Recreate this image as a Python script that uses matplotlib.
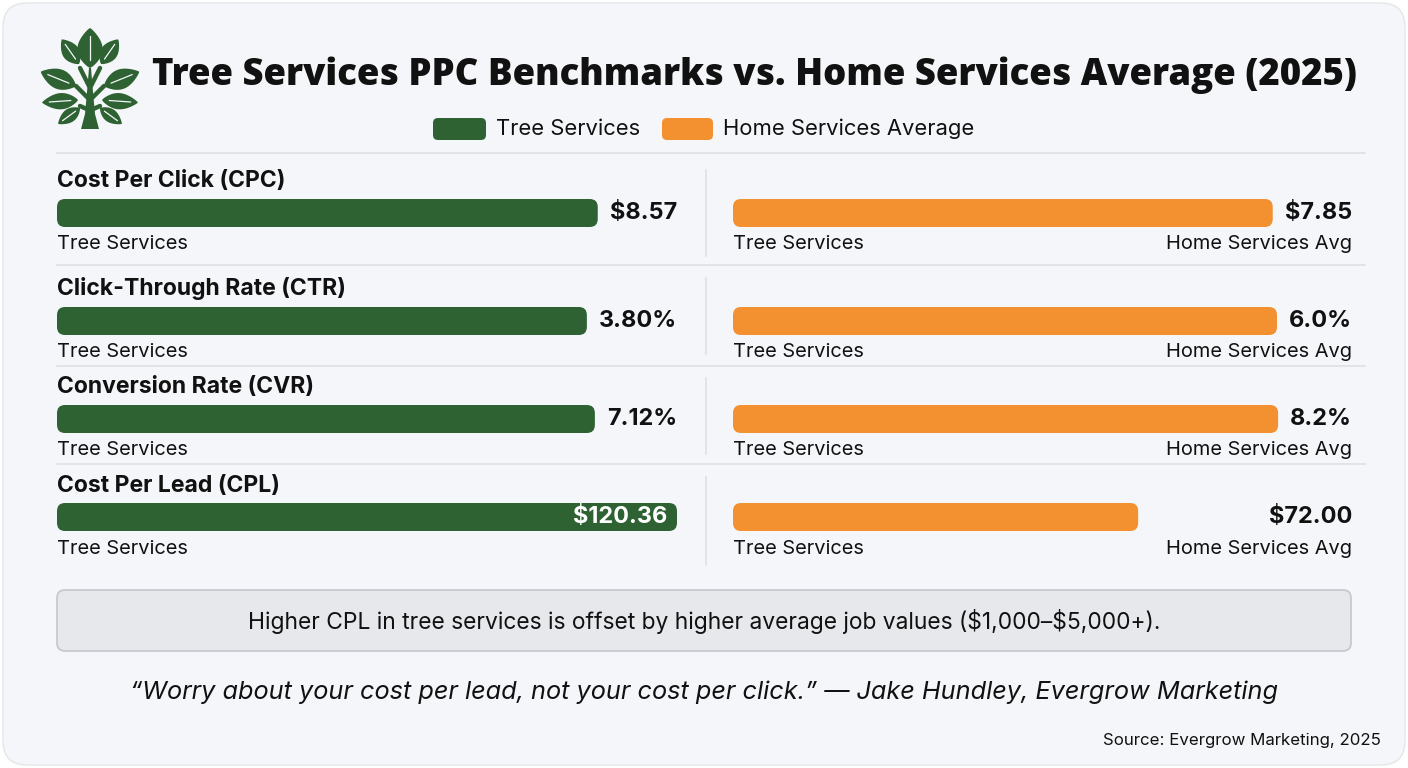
import numpy as np
import matplotlib.pyplot as plt
from matplotlib.patches import FancyBboxPatch, Polygon

# ---- data ----
metrics = ['Cost Per Click (CPC)', 'Click-Through Rate (CTR)',
           'Conversion Rate (CVR)', 'Cost Per Lead (CPL)']
tree_vals = [8.57, 3.80, 7.12, 120.36]
home_vals = [7.85, 6.0, 8.2, 72.00]
tree_labels = ['\\$8.57', '3.80%', '7.12%', '\\$120.36']
home_labels = ['\\$7.85', '6.0%', '8.2%', '\\$72.00']
series_names = ['Tree Services', 'Home Services Average']
note = 'Higher CPL in tree services is offset by higher average job values (\\$1,000–\\$5,000+).'
quote = '“Worry about your cost per lead, not your cost per click.” — Jake Hundley, Evergrow Marketing'
source = 'Source: Evergrow Marketing, 2025'

GREEN = '#2f6233'
ORANGE = '#f39130'
INK = '#111111'
BODY = ['Inter', 'DejaVu Sans']
HEAD = ['Open Sans', 'DejaVu Sans']

W, H = 1408, 768
fig = plt.figure(figsize=(W / 100, H / 100), dpi=100, facecolor='white')
bg = fig.add_axes([0, 0, 1, 1])
bg.set_xlim(0, W)
bg.set_ylim(H, 0)
bg.axis('off')
fig.canvas.draw()
r = fig.canvas.get_renderer()


def fit_size(s, target, **kw):
    # font size that makes s about target pixels wide
    t = bg.text(0, 0, s, fontsize=20, **kw)
    wd = t.get_window_extent(r).width
    t.remove()
    return 20 * target / wd


def text_width(s, **kw):
    t = bg.text(0, 0, s, **kw)
    wd = t.get_window_extent(r).width
    t.remove()
    return wd


# card
bg.add_patch(FancyBboxPatch((3, 3), W - 6, H - 6, boxstyle='round,pad=0,rounding_size=24',
                            fc='#f4f6f9', ec='#e3e6ea', lw=1))


# ---- tree icon ----
def leaf(bx, by, ang, L, Wd):
    t = np.linspace(0, 1, 40)
    x = t * L
    y = Wd / 2 * np.sin(np.pi * t) ** 0.8 * (1 - 0.2 * t)
    xs = np.concatenate([x, x[::-1]])
    ys = np.concatenate([y, -y[::-1]])
    a = np.deg2rad(ang)
    X = bx + xs * np.cos(a) - ys * np.sin(a)
    Y = by - (xs * np.sin(a) + ys * np.cos(a))
    bg.add_patch(Polygon(np.column_stack([X, Y]), closed=True, fc=GREEN, ec='none'))
    bg.plot([bx + 0.2 * L * np.cos(a), bx + 0.8 * L * np.cos(a)],
            [by - 0.2 * L * np.sin(a), by - 0.8 * L * np.sin(a)],
            color='#f4f6f9', lw=0.9, solid_capstyle='round')


cx = 90
trunk = [(81, 129), (99, 129), (95, 114), (93, 92), (91, 68), (89, 68), (87, 92), (85, 114)]
bg.add_patch(Polygon(trunk, closed=True, fc=GREEN, ec='none'))
for (x0, y0, x1, y1) in [(90, 100, 76, 86), (90, 100, 104, 86), (89, 86, 80, 68), (91, 86, 100, 68),
                         (89, 110, 80, 106), (91, 110, 100, 106)]:
    bg.plot([x0, x1], [y0, y1], color=GREEN, lw=3.2, solid_capstyle='round')
leaf(cx, 68, 90, 40, 28)
for s in (-1, 1):
    def mir(a):
        return a if s == 1 else 180 - a
    leaf(cx + s * 11, 64, mir(55), 30, 19)
    leaf(cx + s * 14, 86, mir(22), 38, 22)
    leaf(cx + s * 12, 100, mir(-4), 36, 18)
    leaf(cx + s * 10, 108, mir(-36), 27, 15)

# ---- title ----
title_s = 'Tree Services PPC Benchmarks vs. Home Services Average (2025)'
tkw = dict(fontweight=800, family=HEAD)
bg.text(152, 75, title_s, ha='left', va='center', color=INK,
        fontsize=fit_size(title_s, 1205, **tkw), **tkw)

# ---- legend ----
leg_fs = fit_size(series_names[0], 144, family=BODY)
for (x0, x1, col, name) in [(433, 486, GREEN, series_names[0]), (662, 713, ORANGE, series_names[1])]:
    bg.add_patch(FancyBboxPatch((x0, 118), x1 - x0, 22, boxstyle='round,pad=0,rounding_size=5',
                                fc=col, ec='none'))
    bg.text(x1 + 10, 129, name, ha='left', va='center', fontsize=leg_fs, family=BODY, color=INK)

# separators
bg.plot([57, 1365], [153, 153], color='#dde0e5', lw=1.2)
for y in (265, 366, 464):
    bg.plot([57, 1365], [y, y], color='#dde0e5', lw=1.2)
for (y0, y1) in [(170, 256), (278, 354), (378, 454), (477, 565)]:
    bg.plot([706, 706], [y0, y1], color='#dde0e5', lw=1.2)

# ---- metric rows ----
row_title_y = [181, 289, 387, 486]
bar_top = [199, 307, 405, 503]
sub_y = [244, 352, 450, 549]
BAR_H = 28
GAP = 12

head_kw = dict(fontweight='bold', family=BODY)
head_fs = fit_size(metrics[0], 229, **head_kw)
sub_fs = fit_size('Tree Services', 131, family=BODY)
val_kw = dict(fontweight='bold', family=BODY)
val_kw['fontsize'] = fit_size('\\$8.57', 67, **val_kw)


def px_ax(x, y, w, h):
    return fig.add_axes([x / W, 1 - (y + h) / H, w / W, h / H])


def rounded_bar(ax, value, xmax, w_px, color):
    ax.set_xlim(0, xmax)
    ax.set_ylim(0, 1)
    ax.axis('off')
    rad = 8
    ax.add_patch(FancyBboxPatch((0, 0), value, 1,
                                boxstyle=f'round,pad=0,rounding_size={rad * xmax / w_px}',
                                mutation_aspect=(1 / BAR_H) / (xmax / w_px),
                                fc=color, ec='none'))


for i, m in enumerate(metrics):
    bg.text(57, row_title_y[i], m, ha='left', va='center', fontsize=head_fs, color=INK, **head_kw)
    bg.text(57, sub_y[i], 'Tree Services', ha='left', va='center', fontsize=sub_fs, family=BODY, color=INK)
    bg.text(733, sub_y[i], 'Tree Services', ha='left', va='center', fontsize=sub_fs, family=BODY, color=INK)
    bg.text(1352, sub_y[i], 'Home Services Avg', ha='right', va='center', fontsize=sub_fs,
            family=BODY, color=INK)

    # left panel: tree services
    lw_px = 620
    ax = px_ax(57, bar_top[i], lw_px, BAR_H)
    inside = tree_vals[i] >= max(tree_vals)
    if inside:
        xmax = tree_vals[i]
        rounded_bar(ax, tree_vals[i], xmax, lw_px, GREEN)
        ax.annotate(tree_labels[i], (tree_vals[i], 0.5), xytext=(-10, 0), textcoords='offset pixels',
                    ha='right', va='center', color='white', **val_kw)
    else:
        tw = text_width(tree_labels[i], **val_kw)
        xmax = tree_vals[i] * lw_px / (lw_px - tw - GAP)
        rounded_bar(ax, tree_vals[i], xmax, lw_px, GREEN)
        ax.annotate(tree_labels[i], (tree_vals[i], 0.5), xytext=(GAP, 0), textcoords='offset pixels',
                    ha='left', va='center', color=INK, **val_kw)

    # right panel: home services average
    rw_px = 619
    ax = px_ax(733, bar_top[i], rw_px, BAR_H)
    if inside:
        # CPL uses a rounded 0-110 scale, label pinned to the track end
        rounded_bar(ax, home_vals[i], 110, rw_px, ORANGE)
        ax.text(1, 0.5, home_labels[i], transform=ax.transAxes, ha='right', va='center',
                color=INK, **val_kw)
    else:
        tw = text_width(home_labels[i], **val_kw)
        xmax = home_vals[i] * rw_px / (rw_px - tw - GAP)
        rounded_bar(ax, home_vals[i], xmax, rw_px, ORANGE)
        ax.annotate(home_labels[i], (home_vals[i], 0.5), xytext=(GAP, 0), textcoords='offset pixels',
                    ha='left', va='center', color=INK, **val_kw)

# ---- note box, quote, source ----
bg.add_patch(FancyBboxPatch((57, 590), 1294, 61, boxstyle='round,pad=0,rounding_size=8',
                            fc='#e6e8ec', ec='#c3c7cd', lw=1.2))
bg.text(704, 621, note, ha='center', va='center', color=INK, family=BODY,
        fontsize=fit_size(note, 913, family=BODY))
bg.text(704, 692, quote, ha='center', va='center', style='italic', family=BODY, color=INK,
        fontsize=fit_size(quote, 1150, style='italic', family=BODY))
bg.text(1381, 740, source, ha='right', va='center', family=BODY, color=INK,
        fontsize=fit_size(source, 278, family=BODY))

fig.savefig('out.png', dpi=100, facecolor='white')
